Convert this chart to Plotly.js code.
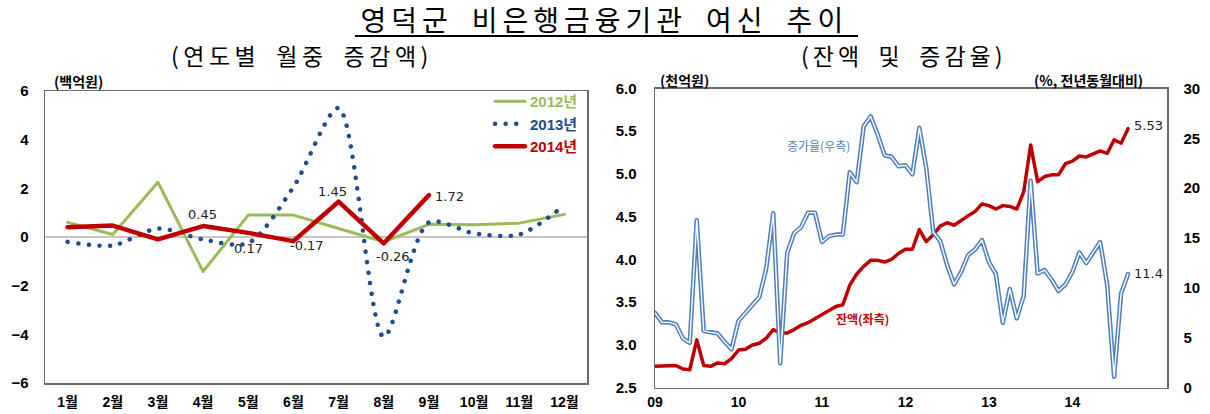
<!DOCTYPE html>
<html>
<head>
<meta charset="utf-8">
<script src="https://cdn.plot.ly/plotly-3.0.1.min.js"></script>
<style>
html,body{margin:0;padding:0;background:#fff;}
.js-line{stroke-linecap:round;stroke-linejoin:round;}
</style>
</head>
<body>
<div id="chart" style="width:1210px;height:414px;"></div>
<script>
// ---- Left panel data (연도별 월중 증감액, 백억원) ----
const months = ['1월','2월','3월','4월','5월','6월','7월','8월','9월','10월','11월','12월'];
const y2012 = [0.6, 0.1, 2.25, -1.42, 0.9, 0.9, 0.35, -0.2, 0.52, 0.5, 0.57, 0.93];
const y2013 = [-0.2, -0.35, 0.35, -0.1, -0.25, 2.05, 5.3, -4.1, 0.6, 0.15, 0.1, 1.3];
const y2014 = [0.4, 0.47, -0.1, 0.45, 0.17, -0.17, 1.45, -0.26, 1.72];
const labeled2014 = [3, 4, 5, 6, 7, 8]; // indexes of 2014 points with value labels

// ---- Right panel data (잔액 및 증감율), monthly 2009.1 ~ 2014.9 ----
const yearTicks = ['09','10','11','12','13','14'];
const balance = [
  2.75,2.75,2.75,2.76,2.72,2.71,3.06,2.76,2.75,2.79,2.78,2.84,
  2.94,2.95,3.00,3.02,3.08,3.18,3.14,3.14,3.18,3.23,3.26,3.31,
  3.36,3.40,3.45,3.47,3.70,3.83,3.92,3.99,3.99,3.97,4.00,4.07,
  4.12,4.12,4.35,4.21,4.29,4.39,4.43,4.40,4.46,4.51,4.56,4.65,
  4.63,4.59,4.63,4.62,4.59,4.79,5.34,4.91,4.97,4.99,4.99,5.12,
  5.15,5.21,5.20,5.24,5.27,5.24,5.40,5.36,5.53];
const growth = [
  7.5,6.55,6.55,6.35,4.95,4.5,16.8,5.7,5.55,5.45,4.6,3.85,
  6.7,7.45,8.3,9.1,12.0,17.5,2.45,13.5,15.5,16.1,17.55,17.55,
  14.6,15.2,15.35,15.35,21.6,20.6,26.2,27.2,25.4,23.3,23.15,22.2,
  22.3,21.4,26.05,22.0,15.6,14.7,12.3,10.35,11.6,13.3,13.85,14.8,
  12.6,11.4,6.5,9.9,6.95,9.2,20.75,11.45,11.8,10.85,9.7,10.35,
  11.6,13.55,12.5,13.6,14.6,10.3,1.1,9.45,11.4];
const monthIdx = balance.map((_, i) => i);          // months since 2009.1
const yearTickVals = yearTicks.map((_, i) => i * 12);

const W = 1210, H = 414;
const px = x => x / W;
const py = y => 1 - y / H;

const numFont = {family: 'Liberation Sans, Arial, Noto Sans CJK KR', size: 15, color: '#000', weight: 700};
const korFont = 'Noto Sans CJK KR, Liberation Sans, sans-serif';
const SP = '\u2002';

const TITLE = '영덕군' + SP + '비은행금융기관' + SP + '여신' + SP + '추이';
const SUB_L = '(연도별' + SP + '월중' + SP + '증감액)';
const SUB_R = '(잔액' + SP + '및' + SP + '증감율)';

const traces = [
  {x: months, y: y2012, xaxis: 'x', yaxis: 'y', type: 'scatter', mode: 'lines',
   name: '<span style="color:#9bbb59">2012년</span>',
   line: {color: '#9bbb59', width: 3}},
  {x: months, y: y2013, xaxis: 'x', yaxis: 'y', type: 'scatter', mode: 'lines',
   name: '<span style="color:#1f4e8c">2013년</span>',
   line: {color: '#1f4e8c', width: 4.5, dash: '0.1px,10.5px', shape: 'spline', smoothing: 0.8}},
  {x: months.slice(0, y2014.length), y: y2014, xaxis: 'x', yaxis: 'y', type: 'scatter', mode: 'lines',
   name: '<span style="color:#c00000">2014년</span>',
   line: {color: '#c00000', width: 4.5}},
  {x: monthIdx, y: balance, xaxis: 'x2', yaxis: 'y2', type: 'scatter', mode: 'lines',
   showlegend: false, line: {color: '#c00000', width: 3.5}},
  {x: monthIdx, y: growth, xaxis: 'x2', yaxis: 'y3', type: 'scatter', mode: 'lines',
   showlegend: false, line: {color: '#4f81bd', width: 4.5}},
  {x: monthIdx, y: growth, xaxis: 'x2', yaxis: 'y3', type: 'scatter', mode: 'lines',
   showlegend: false, line: {color: '#ffffff', width: 1.4}}
];

// value label offsets (pixels) for 2014 points
const offs = {3: [-1, 12], 4: [0, -16], 5: [14, -4], 6: [-6, 10], 7: [9, -13], 8: [21, -1]};
const annotations = labeled2014.map(i => ({
  x: months[i], y: y2014[i], xref: 'x', yref: 'y', text: String(y2014[i]),
  showarrow: false, xshift: offs[i][0], yshift: offs[i][1], xanchor: 'center', yanchor: 'middle',
  font: {family: 'DejaVu Sans, Liberation Sans', size: 13, color: '#222'}
}));

function paperText(x, y, text, font) {
  return {x: px(x), y: py(y), xref: 'paper', yref: 'paper', text: text, showarrow: false,
          xanchor: 'center', yanchor: 'middle', font: font};
}

annotations.push(
  paperText(604, 19, TITLE, {family: korFont, size: 28, color: '#000'}),
  paperText(302, 55, SUB_L, {family: korFont, size: 23, color: '#000'}),
  paperText(904, 55, SUB_R, {family: korFont, size: 23, color: '#000'}),
  paperText(78, 81, '(백억원)', {family: korFont, size: 14, color: '#000', weight: 700}),
  paperText(684, 80, '(천억원)', {family: korFont, size: 14, color: '#000', weight: 700}),
  paperText(1088, 80, '(%, 전년동월대비)', {family: korFont, size: 14, color: '#000', weight: 700}),
  paperText(818, 145, '증가율(우측)', {family: korFont, size: 12, color: '#4f81bd'}),
  paperText(862, 318, '잔액(좌측)', {family: korFont, size: 12, color: '#c00000', weight: 700}),
  {x: monthIdx[balance.length - 1], y: balance[balance.length - 1], xref: 'x2', yref: 'y2',
   text: balance[balance.length - 1].toFixed(2), showarrow: false, xanchor: 'left', yanchor: 'middle',
   xshift: 4, yshift: 3, font: {family: 'DejaVu Sans, Liberation Sans', size: 13, color: '#222'}},
  {x: monthIdx[growth.length - 1], y: growth[growth.length - 1], xref: 'x2', yref: 'y3',
   text: growth[growth.length - 1].toFixed(1), showarrow: false, xanchor: 'left', yanchor: 'middle',
   xshift: 4, yshift: 1, font: {family: 'DejaVu Sans, Liberation Sans', size: 13, color: '#222'}}
);

const axisLine = {showline: true, mirror: true, linecolor: '#6b6b6b', linewidth: 1.5, showgrid: false, zeroline: false, ticks: ''};

const layout = {
  width: W, height: H,
  margin: {l: 0, r: 0, t: 0, b: 0},
  paper_bgcolor: '#fff', plot_bgcolor: '#fff',
  showlegend: true,
  legend: {x: px(583), xanchor: 'right', y: py(85), yanchor: 'top', bgcolor: 'rgba(0,0,0,0)',
           font: {family: 'Liberation Sans, Noto Sans CJK KR', size: 15, weight: 700}, tracegroupgap: 0},
  xaxis: Object.assign({}, axisLine, {domain: [px(45), px(587)], anchor: 'y', type: 'category',
    range: [-0.5, 11.5], tickfont: Object.assign({}, numFont, {size: 14, family: 'Liberation Sans, Noto Sans CJK KR'}),
    ticklabelstandoff: 6}),
  yaxis: Object.assign({}, axisLine, {domain: [py(383), py(91)], anchor: 'x', range: [-6, 6], dtick: 2,
    zeroline: true, zerolinecolor: '#c6c6c6', zerolinewidth: 1.5, tickfont: numFont, ticklabelstandoff: 12}),
  xaxis2: Object.assign({}, axisLine, {domain: [px(655), px(1167)], anchor: 'y2', range: [0, 73.6],
    tickmode: 'array', tickvals: yearTickVals, ticktext: yearTicks,
    tickfont: Object.assign({}, numFont, {size: 14}), ticklabelstandoff: 1}),
  yaxis2: Object.assign({}, axisLine, {domain: [py(387.7), py(88.5)], anchor: 'x2', range: [2.5, 6.0], dtick: 0.5,
    tickformat: '.1f', tickfont: numFont, ticklabelstandoff: 14}),
  yaxis3: Object.assign({}, axisLine, {overlaying: 'y2', side: 'right', anchor: 'x2', range: [0, 30], dtick: 5,
    mirror: false, tickfont: numFont, ticklabelstandoff: 12}),
  annotations: annotations,
  shapes: [
    {type: 'line', xref: 'paper', yref: 'paper', x0: px(355), x1: px(858), y0: py(36), y1: py(36),
     line: {color: '#000', width: 2}}
  ]
};

Plotly.newPlot('chart', traces, layout, {displayModeBar: false, staticPlot: true}).then(gd => {
  // wider letter spacing for the headings, like the reference
  const spacing = {};
  spacing[TITLE] = '5px';
  spacing[SUB_L] = '4.5px';
  spacing[SUB_R] = '4px';
  gd.querySelectorAll('.annotation-text').forEach(t => {
    const s = spacing[t.textContent];
    if (s) t.style.letterSpacing = s;
  });
});
</script>
</body>
</html>
